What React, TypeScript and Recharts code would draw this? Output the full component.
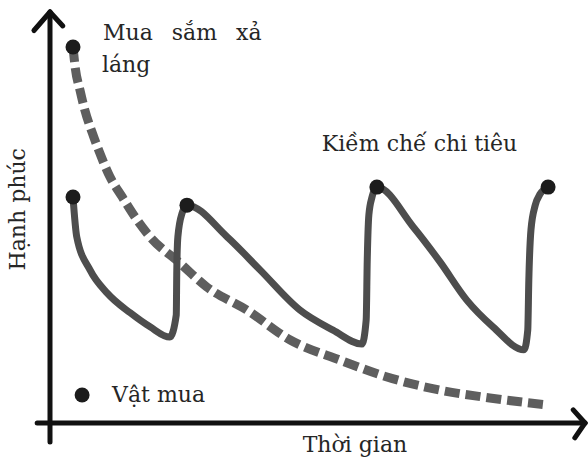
import React from 'react';
import {
  ComposedChart,
  Line,
  Scatter,
  XAxis,
  YAxis,
  ReferenceLine,
  ReferenceDot,
  Label,
} from 'recharts';

const FONT = '"DejaVu Serif", serif';
const TEXT_COLOR = '#262626';

// Text
const xTitle = 'Thời gian';
const yTitle = 'Hạnh phúc';
const spreeLabel1 = 'Mua sắm xả';
const spreeLabel2 = 'láng';
const restraintLabel = 'Kiềm chế chi tiêu';
const purchaseLabel = 'Vật mua';

// "Mua sắm xả láng" – dashed decaying happiness
const spreeTime = [4.3, 4.7, 5.6, 6.5, 7.9, 9.3, 11.2, 13.5, 15.9, 18.7, 24.3, 29.3, 36.8, 44.9, 54.2, 63.0, 72.9, 82.2, 92.9];
const spreeHappiness = [91.5, 86.6, 81.0, 76.2, 70.6, 65.7, 59.9, 55.0, 50.1, 45.3, 38.9, 33.1, 27.5, 20.2, 15.3, 11.2, 8.0, 6.1, 4.4];

// "Kiềm chế chi tiêu" – saw-tooth happiness
const restraintTime = [
  4.3, 5.0, 7.5, 10.7, 15.0, 18.7, 22.4, 23.6, 23.7, 23.9, 24.7, 25.6,
  33.1, 39.3, 46.7, 52.9, 58.3, 59.1, 59.3, 59.6, 60.2, 61.1,
  67.9, 72.9, 77.9, 82.8, 88.6, 89.3, 89.5, 89.9, 90.7, 91.6, 93.1,
];
const restraintHappiness = [
  55.0, 45.3, 37.2, 31.6, 26.8, 23.4, 20.9, 26.3, 37.2, 45.3, 51.1, 53.0,
  45.3, 37.2, 27.5, 22.6, 19.2, 25.1, 39.7, 50.6, 55.0, 57.4,
  47.7, 39.2, 29.9, 23.4, 17.8, 22.6, 34.8, 47.0, 53.0, 55.7, 57.4,
];

// Purchases (dots)
const purchaseTime = [4.3, 4.3, 25.6, 61.1, 93.1];
const purchaseHappiness = [91.5, 55.0, 53.0, 57.4, 57.4];

const spreeData = spreeTime.map((x, i) => ({ x, y: spreeHappiness[i] }));
const restraintData = restraintTime.map((x, i) => ({ x, y: restraintHappiness[i] }));
const purchaseData = purchaseTime.map((x, i) => ({ x, y: purchaseHappiness[i] }));

const textProps = {
  fontFamily: FONT,
  fontSize: 22,
  fill: TEXT_COLOR,
};

const makeText = (text: string, extra: any = {}) => (props: any) => {
  const vb = props.viewBox || {};
  return (
    <text x={vb.x} y={vb.y} {...textProps} {...extra}>
      {text}
    </text>
  );
};

const PurchaseDot = (props: any) => {
  const { cx, cy } = props;
  if (cx == null || cy == null) return null;
  return <circle cx={cx} cy={cy} r={7.5} fill="#1c1c1c" />;
};

const AXIS_COLOR = '#111';

export default function App() {
  return (
    <div style={{ position: 'absolute', left: 0, top: 0, width: 588, height: 459, background: '#fff' }}>
      <ComposedChart
        width={588}
        height={459}
        margin={{ top: 12, right: 3, bottom: 0, left: 0 }}
      >
        <XAxis
          type="number"
          dataKey="x"
          domain={[0, 100]}
          height={36}
          axisLine={false}
          tickLine={false}
          tick={false}
        >
          <Label
            content={(p: any) => {
              const vb = p.viewBox;
              return (
                <text
                  x={vb.x + vb.width * 0.57}
                  y={vb.y + 29}
                  textAnchor="middle"
                  {...textProps}
                >
                  {xTitle}
                </text>
              );
            }}
          />
        </XAxis>
        <YAxis
          type="number"
          dataKey="y"
          domain={[0, 100]}
          width={50}
          axisLine={false}
          tickLine={false}
          tick={false}
        >
          <Label
            content={(p: any) => {
              const vb = p.viewBox;
              const cx = vb.x + 25;
              const cy = vb.y + vb.height * 0.48;
              return (
                <text
                  x={cx}
                  y={cy}
                  textAnchor="middle"
                  transform={`rotate(-90 ${cx} ${cy})`}
                  {...textProps}
                >
                  {yTitle}
                </text>
              );
            }}
          />
        </YAxis>

        {/* Axes with arrows */}
        <ReferenceLine
          segment={[{ x: 0, y: -4.6 }, { x: 0, y: 100 }]}
          stroke={AXIS_COLOR}
          strokeWidth={5}
          strokeLinecap="round"
          ifOverflow="visible"
        />
        <ReferenceLine
          segment={[{ x: -3.0, y: 95.5 }, { x: 0, y: 100 }]}
          stroke={AXIS_COLOR}
          strokeWidth={5}
          strokeLinecap="round"
          ifOverflow="visible"
        />
        <ReferenceLine
          segment={[{ x: 0, y: 100 }, { x: 2.4, y: 96.6 }]}
          stroke={AXIS_COLOR}
          strokeWidth={5}
          strokeLinecap="round"
          ifOverflow="visible"
        />
        <ReferenceLine
          segment={[{ x: -2.4, y: 0 }, { x: 100, y: 0 }]}
          stroke={AXIS_COLOR}
          strokeWidth={5}
          strokeLinecap="round"
          ifOverflow="visible"
        />
        <ReferenceLine
          segment={[{ x: 97.8, y: 3.2 }, { x: 100, y: 0 }]}
          stroke={AXIS_COLOR}
          strokeWidth={5}
          strokeLinecap="round"
          ifOverflow="visible"
        />
        <ReferenceLine
          segment={[{ x: 100, y: 0 }, { x: 98.1, y: -3.6 }]}
          stroke={AXIS_COLOR}
          strokeWidth={5}
          strokeLinecap="round"
          ifOverflow="visible"
        />

        <Line
          data={spreeData}
          dataKey="y"
          type="monotone"
          stroke="#5e5e5e"
          strokeWidth={9}
          strokeDasharray="15 6"
          dot={false}
          activeDot={false}
          isAnimationActive={false}
        />
        <Line
          data={restraintData}
          dataKey="y"
          type="monotone"
          stroke="#4d4d4d"
          strokeWidth={7}
          strokeLinecap="round"
          strokeLinejoin="round"
          dot={false}
          activeDot={false}
          isAnimationActive={false}
        />
        <Scatter
          data={purchaseData}
          dataKey="y"
          shape={PurchaseDot}
          isAnimationActive={false}
        />

        {/* Annotations */}
        <ReferenceDot x={9.9} y={93.2} r={0} fill="none" stroke="none" ifOverflow="visible">
          <Label content={makeText(spreeLabel1, { wordSpacing: 12 })} />
        </ReferenceDot>
        <ReferenceDot x={9.7} y={85.4} r={0} fill="none" stroke="none" ifOverflow="visible">
          <Label content={makeText(spreeLabel2)} />
        </ReferenceDot>
        <ReferenceDot x={50.8} y={66.2} r={0} fill="none" stroke="none" ifOverflow="visible">
          <Label content={makeText(restraintLabel)} />
        </ReferenceDot>
        <ReferenceDot x={6.0} y={6.8} r={7.5} fill="#1c1c1c" stroke="none" ifOverflow="visible" />
        <ReferenceDot x={11.6} y={5.1} r={0} fill="none" stroke="none" ifOverflow="visible">
          <Label content={makeText(purchaseLabel)} />
        </ReferenceDot>
      </ComposedChart>
    </div>
  );
}
